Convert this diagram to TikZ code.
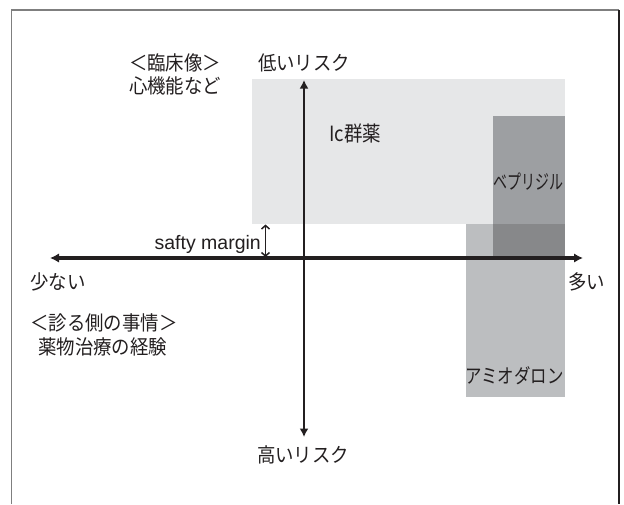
\documentclass[tikz,border=0pt]{standalone}
\usepackage{fontspec}
\setmainfont{Noto Sans CJK JP}
\newfontfamily\latinfont{Liberation Sans}
\usetikzlibrary{arrows.meta}
\definecolor{axiscol}{HTML}{231F20}
\definecolor{framegray}{HTML}{7F7F7F}
\definecolor{icgray}{HTML}{E6E7E8}
\definecolor{bepgray}{HTML}{9D9FA2}
\definecolor{amigray}{HTML}{BCBEC0}
\definecolor{overgray}{HTML}{87888A}
\newcommand{\nrw}[2][0.92]{\scalebox{#1}[1]{#2}}
\tikzset{
  lbl/.style={inner sep=0pt, text=axiscol, font=\fontsize{20}{24}\selectfont},
  axisline/.style={draw=axiscol, line width=3.2pt,
    {Latex[length=9pt,width=9.5pt]}-{Latex[length=9pt,width=9.5pt]}},
  vaxisline/.style={draw=axiscol, line width=2.6pt,
    {Latex[length=8.5pt,width=9pt]}-{Latex[length=8.5pt,width=9pt]}},
  marginarrow/.style={draw=axiscol, line width=1.5pt,
    {Straight Barb[length=3.5pt,width=8pt,line width=1.5pt]}-{Straight Barb[length=3.5pt,width=8pt,line width=1.5pt]}},
}
\begin{document}
\begin{tikzpicture}[x=1pt,y=-1pt]
\useasboundingbox (0,0) rectangle (624,504);
\fill[white] (0,0) rectangle (624,504);
% frame
\draw[framegray, line width=1.6pt] (11.5,504) -- (11.5,10) -- (619,10);
\draw[axiscol, line width=1.5pt] (619,10) -- (619,504);
% regions
\fill[icgray] (252,79) rectangle (565,224);
\fill[amigray] (466,224) rectangle (565,397);
\fill[bepgray] (493,116) rectangle (565,224);
\fill[overgray] (493,224) rectangle (565,258);
% axes
\coordinate (xl) at (50,258);
\coordinate (xr) at (583,258);
\coordinate (yt) at (304,80);
\coordinate (yb) at (304,437);
\draw[axisline] (xl) -- (xr);
\draw[vaxisline] (yb) -- (yt);
% safety margin arrow
\coordinate (mt) at (265.5,224.5);
\coordinate (mb) at (265.5,257);
\draw[marginarrow] (mt) -- (mb);
% labels
\node[lbl] (rinsho) at (175,63) {\nrw{＜臨床像＞}};
\node[lbl] (shinki) at (175,86) {\nrw{心機能など}};
\node[lbl] (low) at (304,63) {\nrw{低いリスク}};
\node[lbl] (high) at (303,455) {\nrw{高いリスク}};
\node[lbl, anchor=west] (sukunai) at (30,282) {\nrw{少ない}};
\node[lbl, anchor=west] (ooi) at (568,282) {\nrw{多い}};
\node[lbl, anchor=west] (miru) at (30,323) {\nrw{＜診る側の事情＞}};
\node[lbl, anchor=west] (yaku) at (38,347) {\nrw{薬物治療の経験}};
\node[lbl, anchor=west, font=\fontsize{21}{24}\selectfont] (ic) at (329,134) {\nrw[0.88]{Ic群薬}};
\node[lbl] (bep) at (528.5,182) {\nrw[0.70]{ベプリジル}};
\node[lbl] (ami) at (514.5,376) {\nrw[0.82]{アミオダロン}};
\node[lbl, anchor=east, font=\latinfont\fontsize{19.5}{23}\selectfont] (safty) at (261,244) {safty margin};
\end{tikzpicture}
\end{document}
